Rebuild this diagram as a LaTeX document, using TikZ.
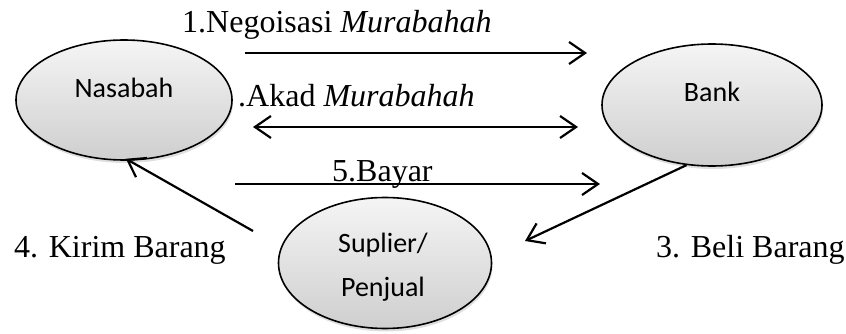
\documentclass[tikz,border=0pt]{standalone}
\usepackage{fontspec}
\setmainfont{Liberation Serif}
\newfontfamily\calibri{Carlito}
\usetikzlibrary{arrows.meta,shapes.geometric,shadows}
\tikzset{
	entity/.style={ellipse, draw, line width=1.6pt, inner sep=0pt,
		top color=gray!8, bottom color=gray!38,
		drop shadow={opacity=0.25, shadow xshift=1pt, shadow yshift=-3pt}},
	entitytext/.style={font=\calibri\fontsize{28}{44}\selectfont, align=center, inner sep=0pt},
	flow/.style={line width=2.2pt, -{Straight Barb[length=16pt, width=22pt]}},
	flowboth/.style={line width=2.2pt, {Straight Barb[length=16pt, width=22pt]}-{Straight Barb[length=16pt, width=22pt]}},
	lbl/.style={font=\fontsize{32}{38}\selectfont, inner sep=0pt, anchor=base west}
}
\begin{document}
\begin{tikzpicture}[x=1pt, y=-1pt]
	\useasboundingbox (0,0) rectangle (846,334);
	\node[entity, minimum width=216pt, minimum height=120pt,
		label={[entitytext, yshift=12pt]center:Nasabah}] (nasabah) at (124,100) {};
	\node[entity, minimum width=220pt, minimum height=122pt,
		label={[entitytext, yshift=13pt]center:Bank}] (bank) at (712,105) {};
	\node[entity, minimum width=213pt, minimum height=131pt] (suplier) at (385,263) {};
	\node[entitytext] (supliertext) at (383,267) {Suplier/\\Penjual};
	\coordinate (nego0) at (245,53);
	\coordinate (nego1) at (587,53);
	\coordinate (akad0) at (253,127);
	\coordinate (akad1) at (578,127);
	\coordinate (bayar0) at (235,184);
	\coordinate (bayar1) at (600,184);
	\coordinate (kirim0) at (253,231);
	\coordinate (beli1) at (525,241);
	\draw[flow] (nego0) -- (nego1);
	\draw[flowboth] (akad0) -- (akad1);
	\draw[flow] (bayar0) -- (bayar1);
	\draw[flow, shorten >=-4pt] (kirim0) -- (nasabah.-85);
	\draw[flow] (bank.-113) -- (beli1);
	\node[lbl] (negolbl) at (182,33) {1.Negoisasi \textit{Murabahah}};
	\node[lbl] (akadlbl) at (238,107) {.Akad \textit{Murabahah}};
	\node[lbl] (bayarlbl) at (332,182) {5.Bayar};
	\node[lbl] (kirimlbl) at (14,257) {4. Kirim Barang};
	\node[lbl] (belilbl) at (656,257) {3. Beli Barang};
\end{tikzpicture}
\end{document}
